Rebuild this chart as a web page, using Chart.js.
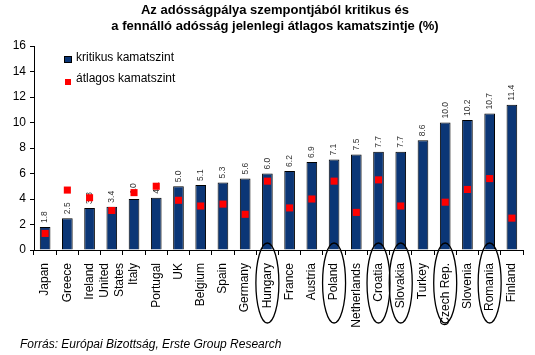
<!DOCTYPE html>
<html>
<head>
<meta charset="utf-8">
<script src="https://cdn.jsdelivr.net/npm/chart.js@4/dist/chart.umd.min.js"></script>
<style>
html,body{margin:0;padding:0;background:#fff;}
#wrap{width:535px;height:355px;position:relative;}
</style>
</head>
<body>
<div id="wrap"><canvas id="c" width="535" height="355"></canvas></div>
<script>
const titleLines = ["Az adósságpálya szempontjából kritikus és", "a fennálló adósság jelenlegi átlagos kamatszintje (%)"];
const sourceText = "Forrás: Európai Bizottság, Erste Group Research";
const categories = ["Japan","Greece","Ireland",["United","States"],"Italy","Portugal","UK","Belgium","Spain","Germany","Hungary","France","Austria","Poland","Netherlands","Croatia","Slovakia","Turkey","Czech Rep.","Slovenia","Romania","Finland"];
const kritikus = [1.8,2.5,3.3,3.4,4.0,4.1,5.0,5.1,5.3,5.6,6.0,6.2,6.9,7.1,7.5,7.7,7.7,8.6,10.0,10.2,10.7,11.4];
const atlagos = [1.3,4.7,4.1,3.1,4.5,5.0,3.9,3.45,3.6,2.8,5.4,3.3,4.0,5.4,2.95,5.5,3.45,null,3.75,4.75,5.6,2.5];
const highlighted = ["Hungary","Poland","Croatia","Slovakia","Czech Rep.","Romania"];
const yTicks = [0,2,4,6,8,10,12,14,16];

const FONT = "'Liberation Sans', Arial, sans-serif";
const barColor = "#0b3676";

const decor = {
  id: 'decor',
  afterDatasetDraw(chart, args) {
    if (args.index !== 0) return;
    const ctx = chart.ctx;
    const meta = chart.getDatasetMeta(0);
    ctx.save();
    ctx.font = "8.5px " + FONT;
    ctx.fillStyle = "#333";
    ctx.textAlign = "left";
    ctx.textBaseline = "middle";
    meta.data.forEach((bar, i) => {
      ctx.save();
      ctx.translate(bar.x, bar.y - 4);
      ctx.rotate(-Math.PI/2);
      ctx.fillText(kritikus[i].toFixed(1), 0, 0);
      ctx.restore();
    });
    ctx.restore();
  },
  afterDraw(chart) {
    const ctx = chart.ctx;
    const ca = chart.chartArea;
    const xs = chart.scales.x;
    ctx.save();
    // title
    ctx.fillStyle = "#000";
    ctx.font = "bold 13px " + FONT;
    ctx.textAlign = "center";
    ctx.textBaseline = "alphabetic";
    ctx.fillText(titleLines[0], 275, 14);
    ctx.fillText(titleLines[1], 275, 30);
    // x category labels (rotated, reading upward, centred on tick)
    ctx.font = "12px " + FONT;
    ctx.textAlign = "right";
    ctx.textBaseline = "middle";
    const lineH = 15;
    categories.forEach((c, i) => {
      const lines = Array.isArray(c) ? c : [c];
      const cx = xs.getPixelForValue(i);
      lines.forEach((ln, k) => {
        const off = (k - (lines.length - 1) / 2) * lineH;
        ctx.save();
        ctx.translate(cx + off, ca.bottom + 13);
        ctx.rotate(-Math.PI/2);
        ctx.fillText(ln, 0, 0);
        ctx.restore();
      });
    });
    // source
    ctx.font = "italic 12px " + FONT;
    ctx.textAlign = "left";
    ctx.textBaseline = "middle";
    ctx.fillText(sourceText, 20, 345);
    // legend
    const ds = chart.data.datasets;
    ctx.font = "12px " + FONT;
    ctx.fillStyle = barColor;
    ctx.fillRect(ca.left + 30, ca.top + 10, 8, 7);
    ctx.strokeStyle = "#000";
    ctx.lineWidth = 1;
    ctx.strokeRect(ca.left + 30.5, ca.top + 10.5, 7, 6);
    ctx.fillStyle = "#000";
    ctx.fillText(ds[0].label, ca.left + 42, ca.top + 12);
    ctx.fillStyle = "#ff0000";
    ctx.fillRect(ca.left + 31, ca.top + 33, 6, 6);
    ctx.fillStyle = "#000";
    ctx.fillText(ds[1].label, ca.left + 42, ca.top + 33);
    // ellipses
    ctx.strokeStyle = "#000";
    ctx.lineWidth = 1.3;
    categories.forEach((c, i) => {
      const name = Array.isArray(c) ? c.join(' ') : c;
      if (highlighted.includes(name)) {
        const cx = xs.getPixelForValue(i);
        ctx.beginPath();
        ctx.ellipse(cx, ca.bottom + 33, 11.5, 40, 0, 0, Math.PI*2);
        ctx.stroke();
      }
    });
    ctx.restore();
  }
};

new Chart(document.getElementById('c'), {
  data: {
    labels: categories,
    datasets: [
      {
        type: 'bar',
        label: 'kritikus kamatszint',
        data: kritikus,
        backgroundColor: barColor,
        borderColor: '#000',
        borderWidth: 1,
        barPercentage: 0.48,
        categoryPercentage: 1,
        order: 1
      },
      {
        type: 'line',
        label: 'átlagos kamatszint',
        data: atlagos,
        showLine: false,
        pointStyle: 'rect',
        pointRadius: 5,
        pointHoverRadius: 5,
        pointBackgroundColor: '#ff0000',
        pointBorderWidth: 0,
        borderColor: '#ff0000',
        order: 0
      }
    ]
  },
  options: {
    responsive: false,
    animation: false,
    devicePixelRatio: 1,
    layout: { padding: { top: 46, right: 12, left: 0, bottom: 0 } },
    plugins: { legend: { display: false }, tooltip: { enabled: false }, title: { display: false } },
    scales: {
      x: {
        offset: true,
        grid: { display: true, drawOnChartArea: false, drawTicks: true, tickLength: 5, color: '#000', offset: true },
        border: { display: true, color: '#000', width: 1 },
        ticks: { display: false },
        afterFit(s) { s.height = 105; }
      },
      y: {
        min: 0, max: 16,
        afterBuildTicks(s) { s.ticks = yTicks.map(v => ({ value: v })); },
        grid: { display: true, drawOnChartArea: false, drawTicks: true, tickLength: 4, color: '#000' },
        border: { display: true, color: '#000', width: 1 },
        ticks: { color: '#000', font: { size: 12, family: FONT }, padding: 4 },
        afterFit(s) { s.width = 34; }
      }
    }
  },
  plugins: [decor]
});
</script>
</body>
</html>
